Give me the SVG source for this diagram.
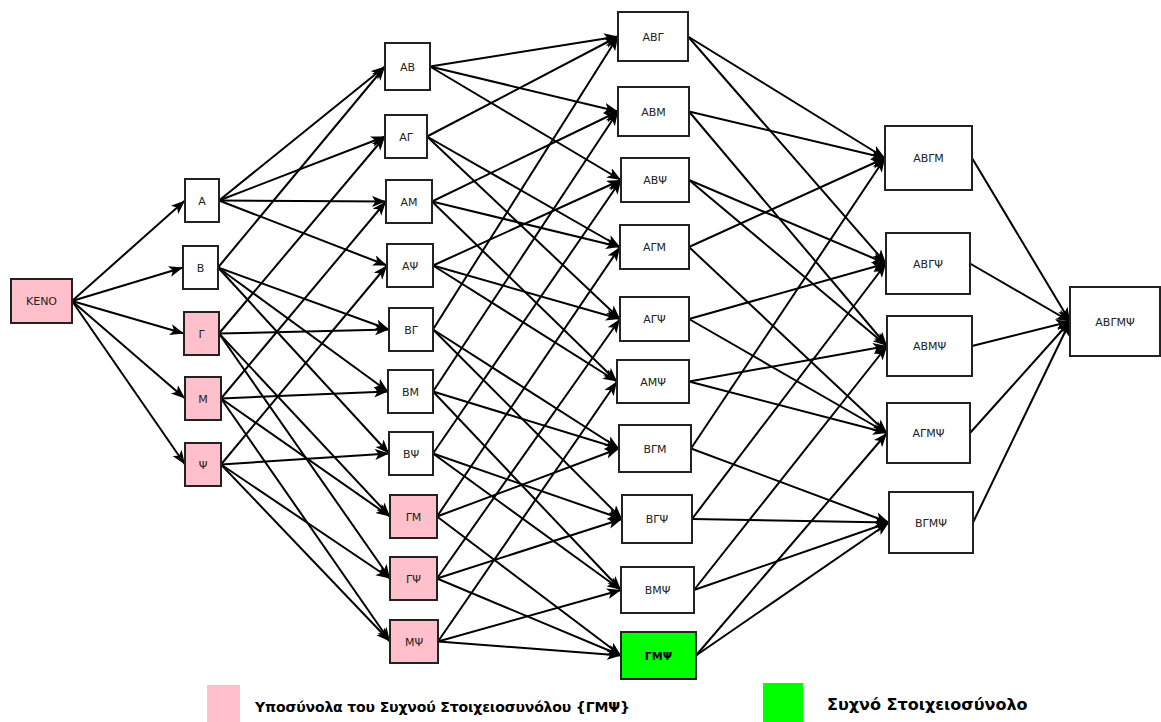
<svg xmlns="http://www.w3.org/2000/svg" width="1161" height="722" viewBox="0 0 1161 722">
  <style>
    .box { fill: #ffffff; stroke: #222222; stroke-width: 2; }
    .sub { fill: #ffc0cb; }
    .freq { fill: #00ff00; }
    .lbl { font-family: "DejaVu Sans", "Liberation Sans", sans-serif; font-size: 11px; fill: #222222; text-anchor: middle; }
    .bold { font-weight: bold; fill: #000000; }
    .edges line { stroke: #000000; stroke-width: 2; marker-end: url(#arrow); }
    .legend { font-family: "DejaVu Sans", "Liberation Sans", sans-serif; font-weight: bold; fill: #000000; }
  </style>
  <defs>
    <marker id="arrow" markerUnits="userSpaceOnUse" markerWidth="15" markerHeight="12" refX="14" refY="5.5" orient="auto">
      <path d="M0,0 L14,5.5 L0,11 L3.5,5.5 Z" fill="#000000"/>
    </marker>
  </defs>
  <rect width="1161" height="722" fill="#ffffff"/>

  <!-- connectors: each set points to the sets that add one element -->
  <g id="edges" class="edges">
    <!-- empty set to singletons -->
    <line x1="72" y1="301" x2="185" y2="200.5"/>
    <line x1="72" y1="301" x2="183" y2="267.5"/>
    <line x1="72" y1="301" x2="184" y2="333.5"/>
    <line x1="72" y1="301" x2="185" y2="398.5"/>
    <line x1="72" y1="301" x2="185" y2="464.5"/>
    <!-- singletons to pairs -->
    <line x1="219" y1="200.5" x2="385" y2="66.5"/>
    <line x1="219" y1="200.5" x2="385" y2="136.5"/>
    <line x1="219" y1="200.5" x2="386" y2="201.5"/>
    <line x1="219" y1="200.5" x2="387" y2="265.5"/>
    <line x1="218" y1="267.5" x2="385" y2="66.5"/>
    <line x1="218" y1="267.5" x2="389" y2="329.5"/>
    <line x1="218" y1="267.5" x2="388" y2="391.5"/>
    <line x1="218" y1="267.5" x2="389" y2="453.5"/>
    <line x1="219" y1="333.5" x2="385" y2="136.5"/>
    <line x1="219" y1="333.5" x2="389" y2="329.5"/>
    <line x1="219" y1="333.5" x2="390" y2="516.5"/>
    <line x1="219" y1="333.5" x2="390" y2="578.5"/>
    <line x1="221" y1="398.5" x2="386" y2="201.5"/>
    <line x1="221" y1="398.5" x2="388" y2="391.5"/>
    <line x1="221" y1="398.5" x2="390" y2="516.5"/>
    <line x1="221" y1="398.5" x2="390" y2="641.5"/>
    <line x1="221" y1="464.5" x2="387" y2="265.5"/>
    <line x1="221" y1="464.5" x2="389" y2="453.5"/>
    <line x1="221" y1="464.5" x2="390" y2="578.5"/>
    <line x1="221" y1="464.5" x2="390" y2="641.5"/>
    <!-- pairs to triples -->
    <line x1="430" y1="66.5" x2="618" y2="36.5"/>
    <line x1="430" y1="66.5" x2="618" y2="111.5"/>
    <line x1="430" y1="66.5" x2="621" y2="180"/>
    <line x1="427" y1="136.5" x2="618" y2="36.5"/>
    <line x1="427" y1="136.5" x2="620" y2="247"/>
    <line x1="427" y1="136.5" x2="620" y2="319"/>
    <line x1="432" y1="201.5" x2="618" y2="111.5"/>
    <line x1="432" y1="201.5" x2="620" y2="247"/>
    <line x1="432" y1="201.5" x2="617" y2="381.5"/>
    <line x1="433" y1="265.5" x2="621" y2="180"/>
    <line x1="433" y1="265.5" x2="620" y2="319"/>
    <line x1="433" y1="265.5" x2="617" y2="381.5"/>
    <line x1="433" y1="329.5" x2="618" y2="36.5"/>
    <line x1="433" y1="329.5" x2="619" y2="448.5"/>
    <line x1="433" y1="329.5" x2="622" y2="519"/>
    <line x1="433" y1="391.5" x2="618" y2="111.5"/>
    <line x1="433" y1="391.5" x2="619" y2="448.5"/>
    <line x1="433" y1="391.5" x2="621" y2="590"/>
    <line x1="433" y1="453.5" x2="621" y2="180"/>
    <line x1="433" y1="453.5" x2="622" y2="519"/>
    <line x1="433" y1="453.5" x2="621" y2="590"/>
    <line x1="437" y1="516.5" x2="620" y2="247"/>
    <line x1="437" y1="516.5" x2="619" y2="448.5"/>
    <line x1="437" y1="516.5" x2="621" y2="655.5"/>
    <line x1="437" y1="578.5" x2="620" y2="319"/>
    <line x1="437" y1="578.5" x2="622" y2="519"/>
    <line x1="437" y1="578.5" x2="621" y2="655.5"/>
    <line x1="438" y1="641.5" x2="617" y2="381.5"/>
    <line x1="438" y1="641.5" x2="621" y2="590"/>
    <line x1="438" y1="641.5" x2="621" y2="655.5"/>
    <!-- triples to quadruples -->
    <line x1="688" y1="36.5" x2="885" y2="158"/>
    <line x1="688" y1="36.5" x2="886" y2="263.5"/>
    <line x1="689" y1="111.5" x2="885" y2="158"/>
    <line x1="689" y1="111.5" x2="887" y2="346"/>
    <line x1="689" y1="180" x2="886" y2="263.5"/>
    <line x1="689" y1="180" x2="887" y2="346"/>
    <line x1="689" y1="247" x2="885" y2="158"/>
    <line x1="689" y1="247" x2="887" y2="433"/>
    <line x1="689" y1="319" x2="886" y2="263.5"/>
    <line x1="689" y1="319" x2="887" y2="433"/>
    <line x1="689" y1="381.5" x2="887" y2="346"/>
    <line x1="689" y1="381.5" x2="887" y2="433"/>
    <line x1="691" y1="448.5" x2="885" y2="158"/>
    <line x1="691" y1="448.5" x2="889" y2="522.5"/>
    <line x1="692" y1="519" x2="886" y2="263.5"/>
    <line x1="692" y1="519" x2="889" y2="522.5"/>
    <line x1="694" y1="590" x2="887" y2="346"/>
    <line x1="694" y1="590" x2="889" y2="522.5"/>
    <line x1="696" y1="655.5" x2="887" y2="433"/>
    <line x1="696" y1="655.5" x2="889" y2="522.5"/>
    <!-- quadruples to the full set -->
    <line x1="972" y1="158" x2="1070" y2="321.5"/>
    <line x1="970" y1="263.5" x2="1070" y2="321.5"/>
    <line x1="972" y1="346" x2="1070" y2="321.5"/>
    <line x1="970" y1="433" x2="1070" y2="321.5"/>
    <line x1="973" y1="522.5" x2="1070" y2="321.5"/>
  </g>

  <!-- level 0 -->
  <g id="n-keno"><rect class="box sub" x="11" y="279" width="61" height="44"/><text class="lbl" x="41.5" y="305">KENO</text></g>

  <!-- level 1 -->
  <g id="n-a"><rect class="box" x="185" y="179" width="34" height="43"/><text class="lbl" x="202" y="204.5">A</text></g>
  <g id="n-b"><rect class="box" x="183" y="246" width="35" height="43"/><text class="lbl" x="200.5" y="271.5">B</text></g>
  <g id="n-g"><rect class="box sub" x="184" y="312" width="35" height="43"/><text class="lbl" x="201.5" y="337.5">Γ</text></g>
  <g id="n-m"><rect class="box sub" x="185" y="377" width="36" height="43"/><text class="lbl" x="203" y="402.5">M</text></g>
  <g id="n-p"><rect class="box sub" x="185" y="443" width="36" height="43"/><text class="lbl" x="203" y="468.5">Ψ</text></g>

  <!-- level 2 -->
  <g id="n-ab"><rect class="box" x="385" y="43" width="45" height="47"/><text class="lbl" x="407.5" y="70.5">AB</text></g>
  <g id="n-ag"><rect class="box" x="385" y="115" width="42" height="43"/><text class="lbl" x="406" y="140.5">AΓ</text></g>
  <g id="n-am"><rect class="box" x="386" y="180" width="46" height="43"/><text class="lbl" x="409" y="205.5">AM</text></g>
  <g id="n-ap"><rect class="box" x="387" y="244" width="46" height="43"/><text class="lbl" x="410" y="269.5">AΨ</text></g>
  <g id="n-bg"><rect class="box" x="389" y="308" width="44" height="43"/><text class="lbl" x="411" y="333.5">BΓ</text></g>
  <g id="n-bm"><rect class="box" x="388" y="370" width="45" height="43"/><text class="lbl" x="410.5" y="395.5">BM</text></g>
  <g id="n-bp"><rect class="box" x="389" y="432" width="44" height="43"/><text class="lbl" x="411" y="457.5">BΨ</text></g>
  <g id="n-gm"><rect class="box sub" x="390" y="495" width="47" height="43"/><text class="lbl" x="413.5" y="520.5">ΓM</text></g>
  <g id="n-gp"><rect class="box sub" x="390" y="557" width="47" height="43"/><text class="lbl" x="413.5" y="582.5">ΓΨ</text></g>
  <g id="n-mp"><rect class="box sub" x="390" y="620" width="48" height="43"/><text class="lbl" x="414" y="645.5">MΨ</text></g>

  <!-- level 3 -->
  <g id="n-abg"><rect class="box" x="618" y="12" width="70" height="49"/><text class="lbl" x="653" y="40.5">ABΓ</text></g>
  <g id="n-abm"><rect class="box" x="618" y="87" width="71" height="49"/><text class="lbl" x="653.5" y="115.5">ABM</text></g>
  <g id="n-abp"><rect class="box" x="621" y="158" width="68" height="44"/><text class="lbl" x="655" y="184">ABΨ</text></g>
  <g id="n-agm"><rect class="box" x="620" y="225" width="69" height="44"/><text class="lbl" x="654.5" y="251">AΓM</text></g>
  <g id="n-agp"><rect class="box" x="620" y="297" width="69" height="44"/><text class="lbl" x="654.5" y="323">AΓΨ</text></g>
  <g id="n-amp"><rect class="box" x="617" y="360" width="72" height="43"/><text class="lbl" x="653" y="385.5">AMΨ</text></g>
  <g id="n-bgm"><rect class="box" x="619" y="425" width="72" height="47"/><text class="lbl" x="655" y="452.5">BΓM</text></g>
  <g id="n-bgp"><rect class="box" x="622" y="495" width="70" height="48"/><text class="lbl" x="657" y="523">BΓΨ</text></g>
  <g id="n-bmp"><rect class="box" x="621" y="567" width="73" height="46"/><text class="lbl" x="657.5" y="594">BMΨ</text></g>
  <g id="n-gmp"><rect class="box freq" x="621" y="632" width="75" height="47"/><text class="lbl bold" x="658.5" y="659.5">ΓMΨ</text></g>

  <!-- level 4 -->
  <g id="n-abgm"><rect class="box" x="885" y="126" width="87" height="64"/><text class="lbl" x="928.5" y="162">ABΓM</text></g>
  <g id="n-abgp"><rect class="box" x="886" y="233" width="84" height="61"/><text class="lbl" x="928" y="267.5">ABΓΨ</text></g>
  <g id="n-abmp"><rect class="box" x="887" y="316" width="85" height="60"/><text class="lbl" x="929.5" y="350">ABMΨ</text></g>
  <g id="n-agmp"><rect class="box" x="887" y="403" width="83" height="60"/><text class="lbl" x="928.5" y="437">AΓMΨ</text></g>
  <g id="n-bgmp"><rect class="box" x="889" y="492" width="84" height="61"/><text class="lbl" x="931" y="526.5">BΓMΨ</text></g>

  <!-- level 5 -->
  <g id="n-abgmp"><rect class="box" x="1070" y="287" width="90" height="69"/><text class="lbl" x="1115" y="325.5">ABΓMΨ</text></g>

  <!-- legend -->
  <g id="legend">
    <rect x="207" y="685" width="33" height="37" fill="#ffc0cb"/>
    <text class="legend" x="255" y="712" font-size="14" textLength="375">Υποσύνολα του Συχνού Στοιχειοσυνόλου {ΓΜΨ}</text>
    <rect x="763" y="683" width="40" height="39" fill="#00ff00"/>
    <text class="legend" x="827" y="710" font-size="16">Συχνό Στοιχειοσύνολο</text>
  </g>
</svg>
